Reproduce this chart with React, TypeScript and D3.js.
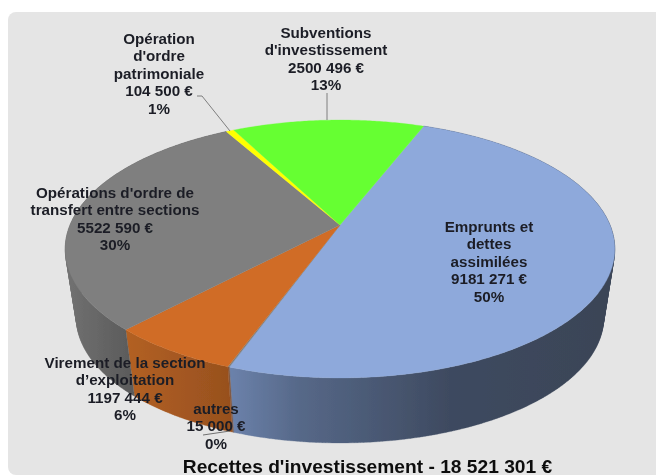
import React from "react";
import * as d3 from "d3";

const categories = ["Emprunts et dettes assimilées", "autres", "Virement de la section d'exploitation", "Opérations d'ordre de transfert entre sections", "Opération d'ordre patrimoniale", "Subventions d'investissement"];
const values = [9181271, 15000, 1197444, 5522590, 104500, 2500496];
const labelLines = [
  ["Emprunts et", "dettes", "assimilées", "9181 271 €", "50%"],
  ["autres", "15 000 €", "0%"],
  ["Virement de la section", "d’exploitation", "1197 444 €", "6%"],
  ["Opérations d'ordre de", "transfert entre sections", "5522 590 €", "30%"],
  ["Opération", "d'ordre", "patrimoniale", "104 500 €", "1%"],
  ["Subventions", "d'investissement", "2500 496 €", "13%"],
];
const titleText = "Recettes d'investissement - 18 521 301 €";

const topColors = ["#8ea9db", "#7f7f7f", "#d06c25", "#7f7f7f", "#ffff00", "#66ff33"];
const sideStops = [
  [[232, "#6b81aa"], [300, "#566888"], [450, "#3e4a60"], [615, "#3a4456"]],
  [[225, "#8f4c1c"], [240, "#5f7499"]],
  [[128, "#b26024"], [232, "#97501e"]],
  [[64, "#727272"], [128, "#5c5c5c"]],
  [[64, "#888888"], [128, "#888888"]],
  [[230, "#4a9a20"], [420, "#4a9a20"]],
] as [number, string][][];
const labelAnchors = [
  [489, 232], [216, 414], [125, 368], [115, 198], [159, 44], [326, 38],
];
const lineGaps = [17.4, 17.4, 17.4, 17.4, 17.4, 17.4];

const W = 656, H = 476;
const k = 0.186;
const topDisc = { cx: 340, cy: 225, a: 270, b: 124.5 };
const baseDisc = { cx: 340, cy: 294.7, a: 259, b: 120.7 };

const project = (d: typeof topDisc, t: number): [number, number] => {
  const x = Math.sin(t), y = -Math.cos(t);
  const w = 1 - k * y;
  return [d.cx + (d.a * x) / w, d.cy + (d.b * y) / w];
};

const startAngle = (21.3 * Math.PI) / 180;
const slices = d3.pie<number>().sort(null).startAngle(startAngle).endAngle(startAngle + 2 * Math.PI)(values);

const rim = (d: typeof topDisc, a0: number, a1: number) => {
  const n = Math.max(2, Math.ceil((a1 - a0) / 0.01));
  return d3.range(n + 1).map((i) => project(d, a0 + ((a1 - a0) * i) / n));
};
const line = d3.line();

const isFront = (s: { startAngle: number; endAngle: number }) => {
  const m = (s.startAngle + s.endAngle) / 2;
  return Math.cos(m) < 0.35;
};

// The wall folds over at the disc's left and right edges, so it is built from
// small quads that all wind the same way; a single band would cancel itself there.
const wallPath = (a0: number, a1: number) => {
  const top = rim(topDisc, a0, a1);
  const base = rim(baseDisc, a0, a1);
  return d3.range(top.length - 1).map((i) => {
    const quad = [top[i], top[i + 1], base[i + 1], base[i]] as [number, number][];
    if (d3.polygonArea(quad) < 0) quad.reverse();
    return line(quad)! + "Z";
  }).join("");
};

export default function App() {
  return (
    <svg width={W} height={H} style={{ position: "absolute", left: 0, top: 0 }} fontFamily="'Liberation Sans', Arial, sans-serif">
      <defs>
        <filter id="soft" x="-5%" y="-5%" width="110%" height="110%">
          <feGaussianBlur stdDeviation="0.5" />
        </filter>
        {sideStops.map((stops, i) => (
          <linearGradient key={i} id={`side${i}`} gradientUnits="userSpaceOnUse" x1={stops[0][0]} x2={stops[stops.length - 1][0]} y1={0} y2={0}>
            {stops.map(([x, c], j) => (
              <stop key={j} offset={(x - stops[0][0]) / (stops[stops.length - 1][0] - stops[0][0])} stopColor={c} />
            ))}
          </linearGradient>
        ))}
      </defs>
      <rect width={W} height={H} fill="#ffffff" />
      <g filter="url(#soft)">
        <rect x={8} y={12} width={W + 20} height={463} rx={8} fill="#e5e5e5" />
        {slices.map((s, i) => {
          if (!isFront(s)) return null;
          return <path key={i} d={wallPath(s.startAngle, s.endAngle)} fill={`url(#side${i})`} stroke={`url(#side${i})`} strokeWidth={0.3} />;
        })}
        {slices.map((s, i) => {
          const a = rim(topDisc, s.startAngle, s.endAngle);
          return <path key={i} d={line([[topDisc.cx, topDisc.cy], ...a])! + "Z"} fill={topColors[i]} stroke={topColors[i]} strokeWidth={0.3} />;
        })}
        <path d="M197,96H202L230,131" fill="none" stroke="#7f7f7f" strokeWidth={1} />
        <path d="M327,93V120" fill="none" stroke="#7f7f7f" strokeWidth={1} />
        <path d="M203,435L230,431" fill="none" stroke="#6f6f6f" strokeWidth={1} />
        {labelLines.map((lines, i) => (
          <text key={i} textAnchor="middle" fontWeight={700} fontSize={15.2} fill="#1c1f26">
            {lines.map((t, j) => (
              <tspan key={j} x={labelAnchors[i][0]} y={labelAnchors[i][1] + j * lineGaps[i]}>{t}</tspan>
            ))}
          </text>
        ))}
        <text x={367.5} y={473} textAnchor="middle" fontWeight={700} fontSize={19.2} fill="#111111">{titleText}</text>
      </g>
    </svg>
  );
}
